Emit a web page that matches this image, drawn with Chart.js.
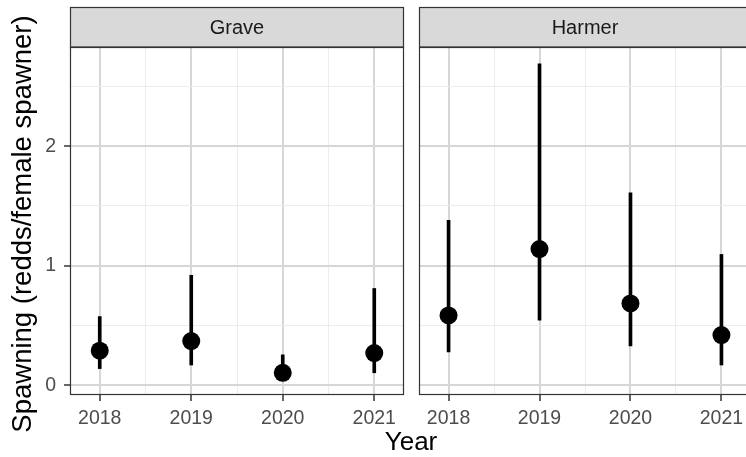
<!DOCTYPE html>
<html>
<head>
<meta charset="utf-8">
<style>
  html, body { margin: 0; padding: 0; background: #fff; overflow: hidden; }
  #wrap { position: relative; width: 746px; height: 457px; overflow: hidden; }
  #wrap canvas { position: absolute; left: 0; top: 0; }
</style>
<script src="https://cdn.jsdelivr.net/npm/chart.js@4.4.1/dist/chart.umd.min.js"></script>
</head>
<body>
<div id="wrap">
  <canvas id="grave" width="760" height="457"></canvas>
  <canvas id="harmer" width="760" height="457"></canvas>
</div>
<script>
(function () {
  'use strict';

  // --- Data ---
  var years = [2018, 2019, 2020, 2021];
  var yearLabels = ['2018', '2019', '2020', '2021'];
  var xMinor = [2018.5, 2019.5, 2020.5];
  var yTicks = [0, 1, 2];
  var yMinor = [0.5, 1.5, 2.5];

  var graveMean = [0.29, 0.37, 0.105, 0.27];
  var graveLow = [0.14, 0.17, 0.05, 0.105];
  var graveHigh = [0.575, 0.92, 0.255, 0.81];

  var harmerMean = [0.585, 1.14, 0.685, 0.42];
  var harmerLow = [0.28, 0.545, 0.33, 0.17];
  var harmerHigh = [1.38, 2.69, 1.61, 1.095];

  // --- Styles ---
  var fontFamily = "'Liberation Sans', Arial, Helvetica, sans-serif";
  var majorGrid = '#d6d6d6';
  var minorGrid = '#ececec';
  var frame = '#333333';
  var tickText = '#4d4d4d';

  Chart.defaults.font.family = fontFamily;
  Chart.defaults.animation = false;

  function isIn(list, v) {
    for (var i = 0; i < list.length; i++) {
      if (Math.abs(list[i] - v) < 1e-9) return true;
    }
    return false;
  }

  function major(list, c) {
    return !!(c && c.tick && isIn(list, c.tick.value));
  }

  function tickSet(majorList, minorList) {
    return majorList.concat(minorList).sort(function (a, b) { return a - b; })
      .map(function (v) { return { value: v }; });
  }

  // strip on top + panel border, ggplot theme_bw style
  var panelFrame = {
    id: 'panelFrame',
    afterDraw: function (chart, args, opts) {
      var a = chart.chartArea;
      var ctx = chart.ctx;
      ctx.save();
      ctx.fillStyle = '#d9d9d9';
      ctx.fillRect(a.left, 7, a.right - a.left, a.top - 7);
      ctx.strokeStyle = frame;
      ctx.lineWidth = 1.2;
      ctx.strokeRect(a.left + 0.5, 7.5, a.right - a.left - 1, a.top - 7.5);
      ctx.strokeRect(a.left + 0.5, a.top + 0.5, a.right - a.left - 1, a.bottom - a.top - 1);
      ctx.font = '20px ' + fontFamily;
      ctx.fillStyle = '#1a1a1a';
      ctx.textAlign = 'center';
      ctx.textBaseline = 'middle';
      ctx.fillText(opts.label, (a.left + a.right) / 2, 28);
      ctx.restore();
    }
  };

  var axisTitles = {
    id: 'axisTitles',
    afterDraw: function (chart, args, opts) {
      if (!opts.show) return;
      var ctx = chart.ctx;
      ctx.save();
      ctx.fillStyle = '#000';
      ctx.textAlign = 'center';
      ctx.textBaseline = 'middle';
      ctx.font = '26px ' + fontFamily;
      ctx.fillText('Year', 411, 443);
      ctx.font = '27.5px ' + fontFamily;
      ctx.translate(23, 224);
      ctx.rotate(-Math.PI / 2);
      ctx.fillText('Spawning (redds/female spawner)', 0, 0);
      ctx.restore();
    }
  };

  function makePanel(id, label, mean, low, high, left) {
    var bars = years.map(function (y, i) { return { x: y, y: [low[i], high[i]] }; });
    var pts = years.map(function (y, i) { return { x: y, y: mean[i] }; });

    new Chart(document.getElementById(id), {
      type: 'bar',
      data: {
        datasets: [
          {
            type: 'bar',
            data: bars,
            backgroundColor: '#000',
            borderWidth: 0,
            barThickness: 3,
            order: 2
          },
          {
            type: 'scatter',
            data: pts,
            pointRadius: 9,
            pointBackgroundColor: '#000',
            pointBorderWidth: 0,
            order: 1
          }
        ]
      },
      options: {
        responsive: false,
        events: [],
        layout: {
          padding: left ? { left: 0, right: 356, top: 47, bottom: 0 }
                        : { left: 419, right: 7, top: 47, bottom: 0 }
        },
        scales: {
          x: {
            type: 'linear',
            offset: false,
            min: 2017.675,
            max: 2021.325,
            afterBuildTicks: function (s) { s.ticks = tickSet(years, xMinor); },
            afterFit: function (s) { s.height = 62; },
            border: { display: false },
            grid: {
              offset: false,
              color: function (c) { return major(years, c) ? majorGrid : minorGrid; },
              lineWidth: function (c) { return major(years, c) ? 2 : 1; },
              tickColor: function (c) { return major(years, c) ? frame : 'rgba(0,0,0,0)'; },
              tickWidth: 1.5,
              tickLength: 6
            },
            ticks: {
              autoSkip: false,
              maxRotation: 0,
              padding: 6,
              color: tickText,
              font: { size: 19.5 },
              callback: function (v) {
                var i = years.indexOf(v);
                return i >= 0 ? yearLabels[i] : '';
              }
            }
          },
          y: {
            type: 'linear',
            min: -0.081,
            max: 2.83,
            afterBuildTicks: function (s) { s.ticks = tickSet(yTicks, yMinor); },
            afterFit: function (s) { s.width = left ? 70 : 0; },
            border: { display: false },
            grid: {
              color: function (c) { return major(yTicks, c) ? majorGrid : minorGrid; },
              lineWidth: function (c) { return major(yTicks, c) ? 2 : 1; },
              drawTicks: left,
              tickColor: function (c) { return major(yTicks, c) ? frame : 'rgba(0,0,0,0)'; },
              tickWidth: 1.5,
              tickLength: 6
            },
            ticks: {
              display: left,
              padding: 8,
              color: tickText,
              font: { size: 19.5 },
              callback: function (v) { return isIn(yTicks, v) ? String(v) : ''; }
            }
          }
        },
        plugins: {
          legend: { display: false },
          tooltip: { enabled: false },
          panelFrame: { label: label },
          axisTitles: { show: left }
        }
      },
      plugins: [panelFrame, axisTitles]
    });
  }

  makePanel('grave', 'Grave', graveMean, graveLow, graveHigh, true);
  makePanel('harmer', 'Harmer', harmerMean, harmerLow, harmerHigh, false);
})();
</script>
</body>
</html>
